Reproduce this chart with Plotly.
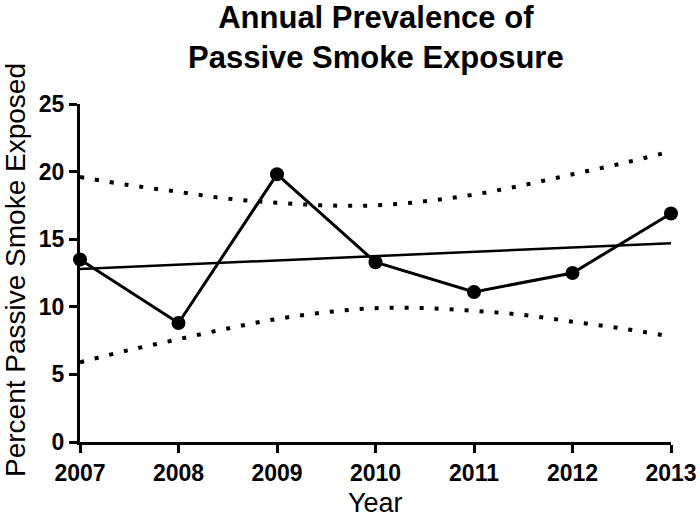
import plotly.graph_objects as go

# --- data ---
years = [2007, 2008, 2009, 2010, 2011, 2012, 2013]
prevalence = [13.5, 8.8, 19.8, 13.3, 11.1, 12.5, 16.9]

fit_years = [2007, 2013]
fit_values = [12.8, 14.7]

band_years = [2007, 2007.5, 2008, 2008.5, 2009, 2009.5, 2010, 2010.5, 2011, 2011.5, 2012, 2012.5, 2013]
band_upper = [19.6, 19.0, 18.5, 18.0, 17.7, 17.5, 17.5, 17.8, 18.3, 19.0, 19.8, 20.6, 21.5]
band_lower = [5.9, 6.8, 7.6, 8.4, 9.1, 9.6, 9.9, 9.9, 9.7, 9.4, 8.9, 8.4, 7.8]

FONT = "Liberation Sans, Arial, sans-serif"

fig = go.Figure()

# confidence bands (dotted)
for band in (band_upper, band_lower):
    fig.add_trace(go.Scatter(
        x=band_years, y=band, mode="lines", line_shape="spline",
        line=dict(color="black", width=4, dash="4px,11px"),
        hoverinfo="skip", showlegend=False,
    ))

# regression line
fig.add_trace(go.Scatter(
    x=fit_years, y=fit_values, mode="lines",
    line=dict(color="black", width=2.5), showlegend=False,
))

# observed prevalence
fig.add_trace(go.Scatter(
    x=years, y=prevalence, mode="lines+markers",
    line=dict(color="black", width=3),
    marker=dict(color="black", size=14),
    showlegend=False, cliponaxis=False,
))

fig.update_layout(
    width=700, height=517,
    paper_bgcolor="white", plot_bgcolor="white",
    margin=dict(l=80, r=29, t=104, b=75),
    font=dict(family=FONT, color="black"),
)

# title + axis titles as annotations (exact placement)
fig.add_annotation(
    text="<b>Annual Prevalence of<br>Passive Smoke Exposure</b>",
    xref="paper", yref="paper", x=0.5, y=1.0,
    yshift=104 + 2, xanchor="center", yanchor="top", showarrow=False,
    font=dict(size=31, family=FONT, color="black"),
)
fig.add_annotation(
    text="Year", xref="paper", yref="paper", x=0.5, y=0,
    yshift=-44, xanchor="center", yanchor="top", showarrow=False,
    font=dict(size=27, family=FONT, color="black"),
)
fig.add_annotation(
    text="Percent Passive Smoke Exposed", xref="paper", yref="paper",
    x=0, y=(442 - 270) / 338, xshift=-65, textangle=-90,
    xanchor="center", yanchor="middle", showarrow=False,
    font=dict(size=28, family=FONT, color="black"),
)

fig.update_xaxes(
    range=[2007, 2013], tickmode="array", tickvals=years, automargin=False,
    showline=True, linecolor="black", linewidth=3,
    ticks="outside", ticklen=8, tickwidth=3, tickcolor="black",
    tickfont=dict(size=23, weight="bold"), showgrid=False, zeroline=False,
)

fig.update_yaxes(
    range=[0, 25], tickvals=[0, 5, 10, 15, 20, 25], automargin=False,
    showline=True, linecolor="black", linewidth=3,
    ticks="outside", ticklen=8, tickwidth=3, tickcolor="black",
    tickfont=dict(size=23, weight="bold"), showgrid=False, zeroline=False,
)

fig.write_html(
    "out.html",
    config={"displayModeBar": False},
    post_script="document.body.style.margin='0';document.body.style.overflow='hidden';",
)
